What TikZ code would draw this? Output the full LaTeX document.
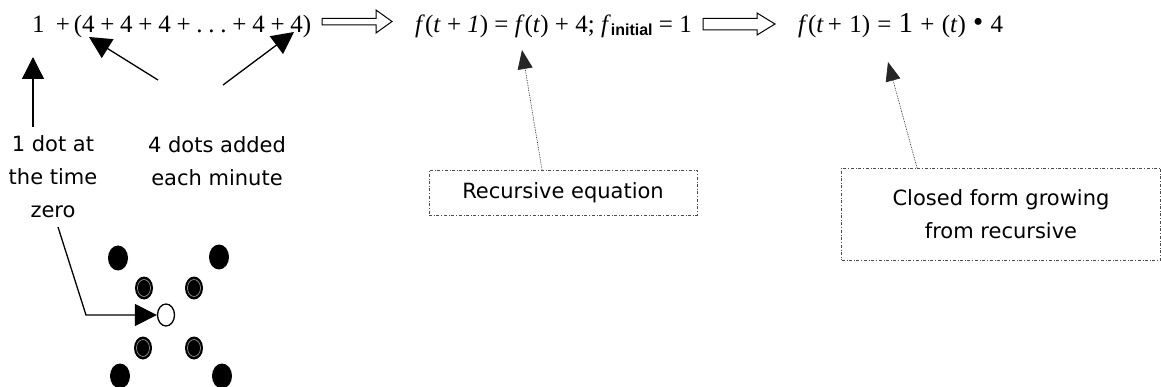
\documentclass[tikz,border=0pt]{standalone}
\usepackage{fontspec}
\setmainfont{Liberation Serif}
\newfontfamily\labelfont{DejaVu Sans}
\newfontfamily\subfont{Liberation Sans}
\usetikzlibrary{arrows.meta,calc,shapes.geometric}
\newcommand\gapa{\hspace{0.23em}}
\newcommand\gapb{\hspace{0.25em}}
\newcommand\gapc{\hspace{0.29em}}
\begin{document}
\begin{tikzpicture}[x=1pt,y=-1pt,
  formula/.style={anchor=base west, inner sep=0pt, font=\fontsize{25}{28}\selectfont},
  lbl/.style={align=center, inner sep=0pt, font=\labelfont\fontsize{21}{33}\selectfont},
  solidarrow/.style={line width=1.3pt, -{Triangle[length=22pt,width=22pt]}},
  dotarrow/.style={densely dotted, line width=0.7pt, black!85, -{Triangle[length=19pt,width=15pt]}},
  notebox/.style={draw=black!70, dash dot, line width=0.6pt, inner sep=0pt},
  hollow/.style={draw, line width=1pt, fill=white},
  bigdot/.style={fill=black},
  ringdot/.style={fill=black},
]
\useasboundingbox (0,0) rectangle (1161,387);

% formulas
\node[formula] (f1) at (32,33) {1\hspace{0.45em}+\hspace{0.15em}(4\gapa+\gapa4\gapa+\gapa4\gapa+\gapa.\gapa.\gapa.\gapa+\gapa4\gapa+\gapa4)};
\node[formula] (f2) at (415,33) {\textit{f}(\textit{t}\gapb+\gapb\textit{1})\gapb=\gapb\textit{f}(\textit{t})\gapb+\gapb4;\gapb\textit{f}\raisebox{-3pt}{\subfont\bfseries\fontsize{16}{16}\selectfont initial}\gapb=\gapb1};
\node[formula] (f3) at (798,33) {\textit{f}(\textit{t}\,+\gapc1)\gapc=\gapc{\fontsize{29}{29}\selectfont 1}\gapc+\gapc(\textit{t})\gapc\raisebox{1pt}{\fontsize{29}{29}\selectfont\textbullet}\gapc4};

% hollow arrows
\draw[hollow] (322,18.5) -- (376,18.5) -- (376,10) -- (392,21.5) -- (376,33) -- (376,25) -- (322,25) -- cycle;
\draw[hollow] (703,18.5) -- (757,18.5) -- (757,13) -- (775,24) -- (757,35) -- (757,30) -- (703,30) -- cycle;

% labels
\node[lbl] (l1) at (53,177) {1 dot at\\the time\\zero};
\node[lbl] (l2) at (217,161) {4 dots added\\each minute};
\node[notebox, minimum width=268pt, minimum height=45pt, font=\labelfont\fontsize{21}{22}\selectfont] (r) at (563,192.5) {Recursive equation};
\node[notebox, minimum width=319pt, minimum height=92pt, align=center, font=\labelfont\fontsize{21}{33}\selectfont] (c) at (1001,214) {Closed form growing\\from recursive};

% arrow tips and tails
\coordinate (a1s) at (33,127);
\coordinate (a1t) at (33,57);
\coordinate (a2s) at (158,80);
\coordinate (a2t) at (89,37);
\coordinate (a3s) at (223,85);
\coordinate (a3t) at (294,32);
\coordinate (rt) at (522,50);
\coordinate (ct) at (888,62);

\draw[solidarrow] (a1s) -- (a1t);
\draw[solidarrow] (a2s) -- (a2t);
\draw[solidarrow] (a3s) -- (a3t);
\draw[dotarrow] (r.north -| 542,0) -- (rt);
\draw[dotarrow] (c.north -| 917,0) -- (ct);

% dots
\fill[bigdot] (118,258) ellipse [x radius=10pt, y radius=12.5pt];
\fill[bigdot] (219,257) ellipse [x radius=10pt, y radius=12.5pt];
\fill[bigdot] (120,376) ellipse [x radius=10pt, y radius=12.5pt];
\fill[bigdot] (222,376) ellipse [x radius=10pt, y radius=12.5pt];
\foreach \p in {(144,288),(194,288),(143,348),(194,348)} {
  \fill[ringdot] \p ellipse [x radius=9pt, y radius=11.5pt];
  \draw[gray!70, line width=0.6pt] \p ellipse [x radius=6.5pt, y radius=8.5pt];
}
\node[draw, line width=1.3pt, fill=white, ellipse, inner sep=0pt, minimum width=17pt, minimum height=22pt] (h) at (166,315) {};
\draw[solidarrow] (58,227) -- (86,315) -- (h.west);
\end{tikzpicture}
\end{document}
